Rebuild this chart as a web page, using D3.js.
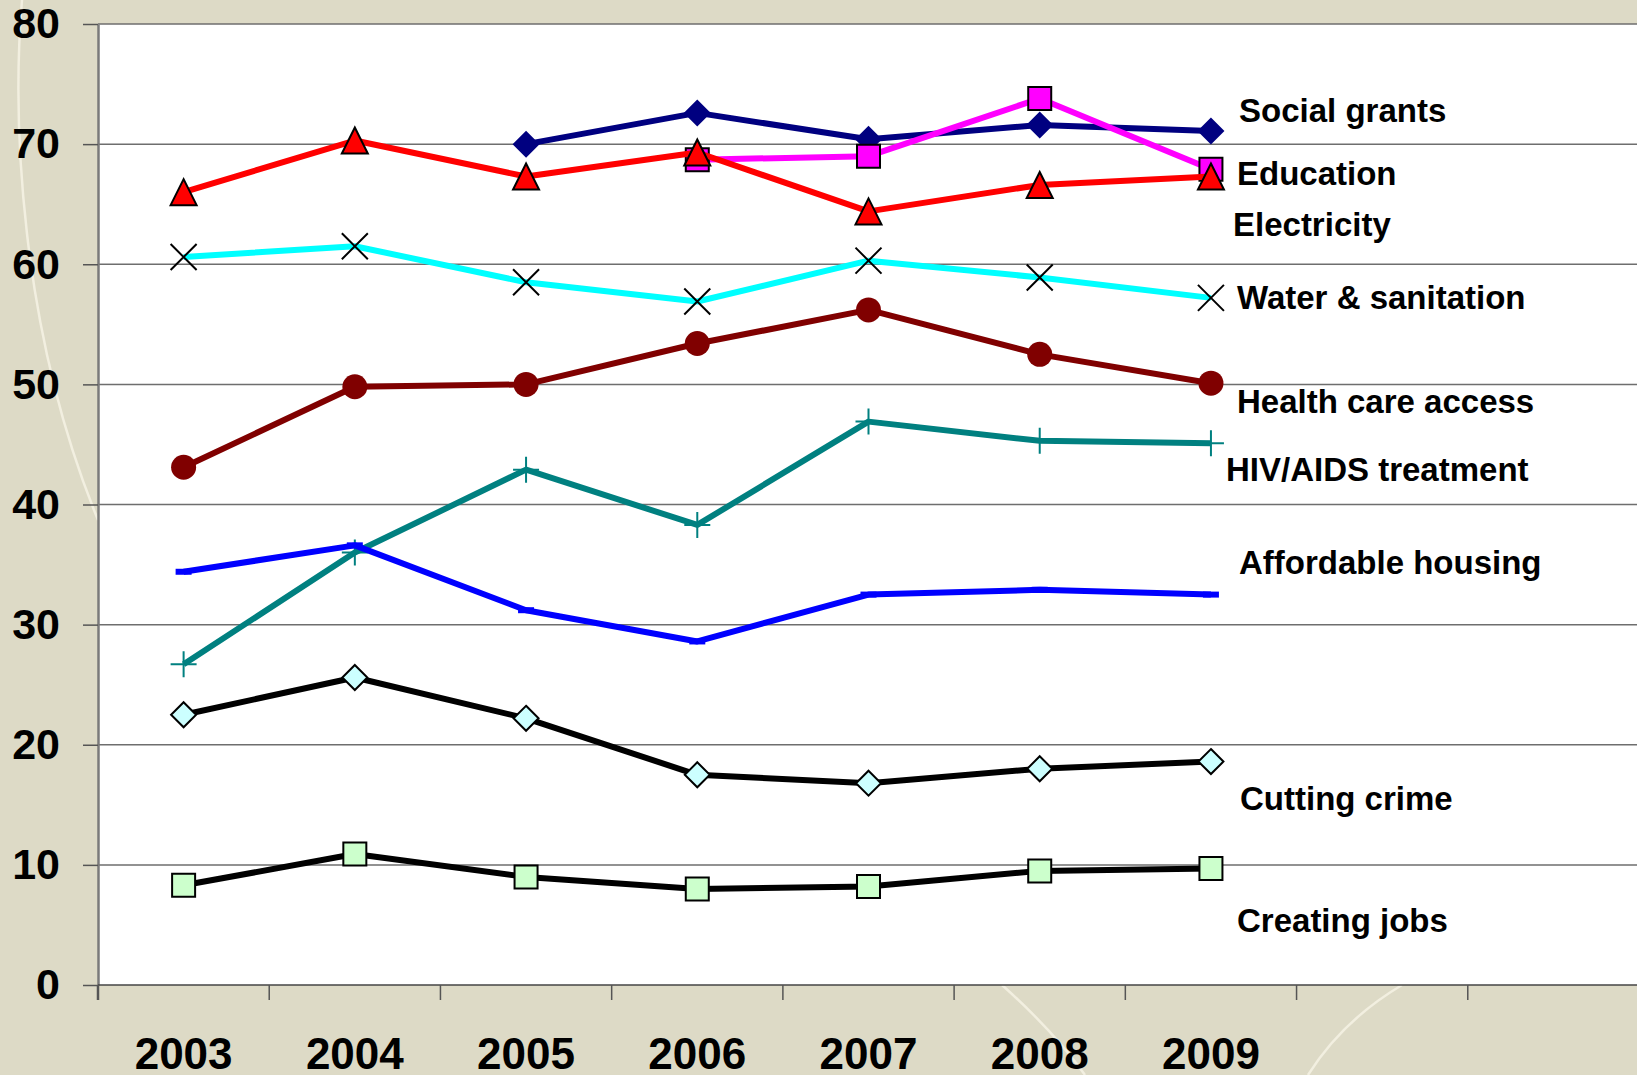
<!DOCTYPE html>
<html>
<head>
<meta charset="utf-8">
<script src="https://cdn.jsdelivr.net/npm/d3@7"></script>
<style>
  html, body { margin: 0; padding: 0; background: #dddac6; }
  svg { display: block; font-family: 'Liberation Sans', Arial, sans-serif; }
</style>
</head>
<body>
<svg id="chart"></svg>
<script>
var years = ['2003', '2004', '2005', '2006', '2007', '2008', '2009'];
var yTicks = [0, 10, 20, 30, 40, 50, 60, 70, 80];

var socialGrants = [null, null, 70.0, 72.6, 70.4, 71.6, 71.1];
var education = [null, null, null, 68.7, 69.0, 73.8, 67.9];
var electricity = [66.0, 70.3, 67.3, 69.3, 64.4, 66.6, 67.3];
var waterSanitation = [60.6, 61.5, 58.5, 56.9, 60.3, 58.9, 57.2];
var healthCare = [43.1, 49.8, 50.0, 53.4, 56.2, 52.5, 50.1];
var hivTreatment = [26.7, 36.0, 42.9, 38.3, 46.9, 45.3, 45.1];
var housing = [34.4, 36.6, 31.2, 28.6, 32.5, 32.9, 32.5];
var cuttingCrime = [22.5, 25.6, 22.2, 17.5, 16.8, 18.0, 18.6];
var creatingJobs = [8.3, 10.9, 9.0, 8.0, 8.2, 9.5, 9.7];

// label anchors, in chart units
var labelNames = ['Social grants', 'Education', 'Electricity', 'Water & sanitation',
  'Health care access', 'HIV/AIDS treatment', 'Affordable housing', 'Cutting crime', 'Creating jobs'];
var labelValues = [72.8, 67.6, 63.3, 57.2, 48.6, 42.9, 35.2, 15.5, 5.4];
// small horizontal nudges (px) so the labels sit like the hand-placed originals
var labelNudge = [1, -1, -5, -1, -1, -12, 1, 2, -1];

var width = 1637,
    height = 1075,
    plotLeft = 98,
    plotTop = 24,
    plotBottom = 985;

var svg = d3.select('#chart')
  .attr('width', width)
  .attr('height', height);

// background swooshes
var deco = svg.append('g')
  .attr('fill', 'none')
  .attr('stroke', '#f4f1e2')
  .attr('stroke-width', 2.5)
  .attr('opacity', 0.9);
deco.append('path').attr('d', 'M22,0 C12,120 20,330 98,520');
deco.append('path').attr('d', 'M1002,985 C1030,1010 1060,1040 1085,1075');
deco.append('path').attr('d', 'M1402,985 C1360,1010 1330,1040 1308,1075');

var x = d3.scaleBand()
  .domain(d3.range(9))
  .range([plotLeft, width + 2]);

var y = d3.scaleLinear()
  .domain([0, 80])
  .range([plotBottom, plotTop]);

svg.append('rect')
  .attr('x', plotLeft)
  .attr('y', plotTop)
  .attr('width', width - plotLeft)
  .attr('height', plotBottom - plotTop)
  .attr('fill', '#ffffff');

// grid
svg.append('g')
  .selectAll('line')
  .data(yTicks.filter(d => d > 0))
  .enter()
  .append('line')
    .attr('x1', plotLeft)
    .attr('x2', width)
    .attr('y1', d => y(d))
    .attr('y2', d => y(d))
    .attr('stroke', '#6e6e6e')
    .attr('stroke-width', 1.5);

// y axis
var yAxis = d3.axisLeft(y)
  .tickValues(yTicks)
  .tickSize(15)
  .tickPadding(23)
  .tickSizeOuter(0);

var yG = svg.append('g')
  .attr('transform', 'translate(' + plotLeft + ',0)')
  .call(yAxis);
yG.select('.domain').attr('stroke', '#7a7a7a').attr('stroke-width', 2.5);
yG.selectAll('.tick line').attr('stroke', '#555').attr('stroke-width', 1.5);
yG.selectAll('.tick text')
  .attr('fill', '#000')
  .style('font-size', '43px')
  .style('font-weight', 'bold');

// x axis, tick marks on category boundaries
var xG = svg.append('g');
xG.append('line')
  .attr('x1', plotLeft)
  .attr('x2', width)
  .attr('y1', plotBottom)
  .attr('y2', plotBottom)
  .attr('stroke', '#444')
  .attr('stroke-width', 1.5);
xG.selectAll('line.tk')
  .data(d3.range(9))
  .enter()
  .append('line')
    .attr('class', 'tk')
    .attr('x1', d => x(d))
    .attr('x2', d => x(d))
    .attr('y1', plotBottom)
    .attr('y2', plotBottom + 15)
    .attr('stroke', '#555')
    .attr('stroke-width', d => d === 0 ? 2.5 : 1.5);
xG.selectAll('text')
  .data(years)
  .enter()
  .append('text')
    .attr('x', (d, i) => x(i) + x.bandwidth() / 2)
    .attr('y', 1069)
    .attr('text-anchor', 'middle')
    .style('font-size', '44px')
    .style('font-weight', 'bold')
    .text(d => d);

function markerPath(type, s) {
  var h = s / 2;
  if (type === 'diamond') return 'M0,' + (-h) + 'L' + h + ',0L0,' + h + 'L' + (-h) + ',0Z';
  if (type === 'square') return 'M' + (-h) + ',' + (-h) + 'h' + s + 'v' + s + 'h' + (-s) + 'Z';
  if (type === 'triangle') return 'M0,' + (-h) + 'L' + h + ',' + h + 'L' + (-h) + ',' + h + 'Z';
  if (type === 'x') return 'M' + (-h) + ',' + (-h) + 'L' + h + ',' + h + 'M' + h + ',' + (-h) + 'L' + (-h) + ',' + h;
  if (type === 'plus') return 'M' + (-h) + ',0H' + h + 'M0,' + (-h) + 'V' + h;
  if (type === 'dash') return 'M' + (-h) + ',0H' + h;
  if (type === 'circle') return 'M' + h + ',0A' + h + ',' + h + ' 0 1,1 ' + (-h) + ',0A' + h + ',' + h + ' 0 1,1 ' + h + ',0Z';
  return '';
}

var series = [
  {values: socialGrants, line: '#000080', marker: 'diamond', size: 27, fill: '#000080', stroke: 'none', sw: 0},
  {values: education, line: '#ff00ff', marker: 'square', size: 23, fill: '#ff00ff', stroke: '#000', sw: 2},
  {values: electricity, line: '#ff0000', marker: 'triangle', size: 26, fill: '#ff0000', stroke: '#000', sw: 2},
  {values: waterSanitation, line: '#00ffff', marker: 'x', size: 26, fill: 'none', stroke: '#000', sw: 2},
  {values: healthCare, line: '#800000', marker: 'circle', size: 25, fill: '#800000', stroke: 'none', sw: 0},
  {values: hivTreatment, line: '#008080', marker: 'plus', size: 26, fill: 'none', stroke: '#008080', sw: 2},
  {values: housing, line: '#0000ff', marker: 'dash', size: 16, fill: 'none', stroke: '#0000ff', sw: 6},
  {values: cuttingCrime, line: '#000000', marker: 'diamond', size: 25, fill: '#ccffff', stroke: '#000', sw: 2},
  {values: creatingJobs, line: '#000000', marker: 'square', size: 23, fill: '#ccffcc', stroke: '#000', sw: 2}
];

var line = d3.line()
  .defined(d => d.v !== null)
  .x(d => x(d.i) + x.bandwidth() / 2)
  .y(d => y(d.v));

series.forEach(function(s) {
  var pts = s.values.map((v, i) => ({i: i, v: v}));
  var g = svg.append('g');
  g.append('path')
    .datum(pts)
    .attr('d', line)
    .attr('fill', 'none')
    .attr('stroke', s.line)
    .attr('stroke-width', 6)
    .attr('stroke-linejoin', 'round');
  g.selectAll('path.mk')
    .data(pts.filter(d => d.v !== null))
    .enter()
    .append('path')
      .attr('class', 'mk')
      .attr('transform', d => 'translate(' + (x(d.i) + x.bandwidth() / 2) + ',' + y(d.v) + ')')
      .attr('d', markerPath(s.marker, s.size))
      .attr('fill', s.fill)
      .attr('stroke', s.stroke)
      .attr('stroke-width', s.sw);
});

svg.append('g')
  .selectAll('text')
  .data(labelNames)
  .enter()
  .append('text')
    .attr('x', (d, i) => 1238 + labelNudge[i])
    .attr('y', (d, i) => y(labelValues[i]))
    .attr('dy', '0.35em')
    .style('font-size', '33px')
    .style('font-weight', 'bold')
    .text(d => d);
</script>
</body>
</html>
